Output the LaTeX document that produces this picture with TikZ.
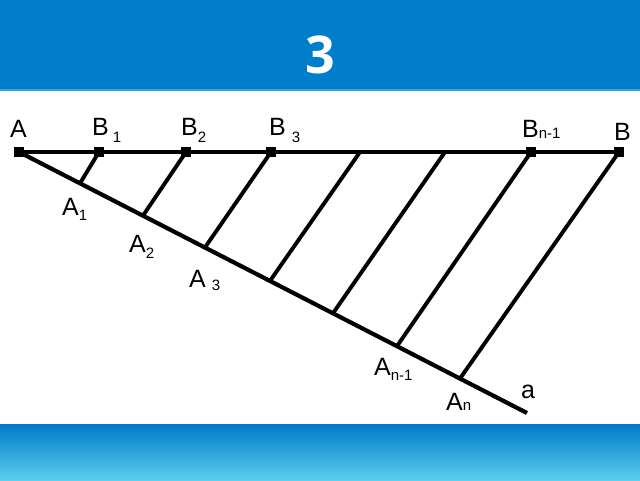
\documentclass[tikz,border=0pt]{standalone}
\usepackage{fontspec}
\usetikzlibrary{calc}
\setmainfont{Liberation Sans}
\newfontfamily\titlefont{Open Sans}
\definecolor{bannerblue}{HTML}{007ECC}
\definecolor{bannerline}{HTML}{3A9FE0}
\definecolor{gradtop}{HTML}{007BC8}
\definecolor{gradbot}{HTML}{5CCFEE}
\newcommand\lsub[2]{\raisebox{-#1pt}{\fontsize{15}{15}\selectfont #2}}
\begin{document}
\begin{tikzpicture}[x=1pt,y=-1pt,
  seg/.style={line width=4.2pt},
  par/.style={line width=3.9pt},
  pt/.style={fill=black,minimum size=10pt,inner sep=0pt,outer sep=0pt,rectangle},
  lab/.style={font=\fontsize{25}{25}\selectfont,inner sep=0pt,anchor=base west}]
\useasboundingbox (0,0) rectangle (640,480);
% banners
\fill[bannerblue] (0,0) rectangle (640,89);
\fill[bannerline] (0,88.5) rectangle (640,90.5);
\node[text=white,font=\titlefont\bfseries\fontsize{52}{52}\selectfont,inner sep=0pt] (title) at (320,55) {3};
\fill[black!10] (0,423.5) rectangle (640,424.5);
\shade[top color=gradtop,bottom color=gradbot] (0,424.5) rectangle (640,480);
% main points
\coordinate (A) at (19,152);
\coordinate (B) at (619,152);
\coordinate (aend) at (527,413);
\coordinate (B1) at (99,152);
\coordinate (B2) at (186,152);
\coordinate (B3) at (271,152);
\coordinate (B4) at (360,152);
\coordinate (B5) at (445,152);
\coordinate (Bn1) at (531,152);
\coordinate (A1) at ($(A)!0.120!(aend)$);
\coordinate (A2) at ($(A)!0.244!(aend)$);
\coordinate (A3) at ($(A)!0.366!(aend)$);
\coordinate (A4) at ($(A)!0.494!(aend)$);
\coordinate (A5) at ($(A)!0.618!(aend)$);
\coordinate (An1) at ($(A)!0.744!(aend)$);
\coordinate (An) at ($(A)!0.868!(aend)$);
% lines
\draw[seg] (A) -- (B);
\draw[seg] (A) -- (aend);
\draw[par] (A1) -- (B1);
\draw[par] (A2) -- (B2);
\draw[par] (A3) -- (B3);
\draw[par] (A4) -- (B4);
\draw[par] (A5) -- (B5);
\draw[par] (An1) -- (Bn1);
\draw[par] (An) -- (B);
% markers
\node[pt] (mA) at (A) {};
\node[pt] (mB1) at (B1) {};
\node[pt] (mB2) at (B2) {};
\node[pt] (mB3) at (B3) {};
\node[pt] (mBn1) at (Bn1) {};
\node[pt] (mB) at (B) {};
% labels
\node[lab] (lA) at (10,137) {A};
\node[lab] (lB1) at (92,135) {B\hspace{4pt}\lsub{7}{1}};
\node[lab] (lB2) at (181,135) {B\lsub{7}{2}};
\node[lab] (lB3) at (269,135) {B\hspace{6pt}\lsub{7}{3}};
\node[lab] (lBn1) at (522,137) {B\lsub{1}{n-1}};
\node[lab] (lB) at (614,140) {B};
\node[lab] (lA1) at (62,215) {A\lsub{5}{1}};
\node[lab] (lA2) at (129,252) {A\lsub{6}{2}};
\node[lab] (lA3) at (189,287) {A\hspace{6pt}\lsub{3}{3}};
\node[lab] (lAn1) at (374,375) {A\lsub{5}{n-1}};
\node[lab] (lAn) at (446,410) {A\lsub{0}{n}};
\node[lab] (la) at (521,398) {a};
\end{tikzpicture}
\end{document}
